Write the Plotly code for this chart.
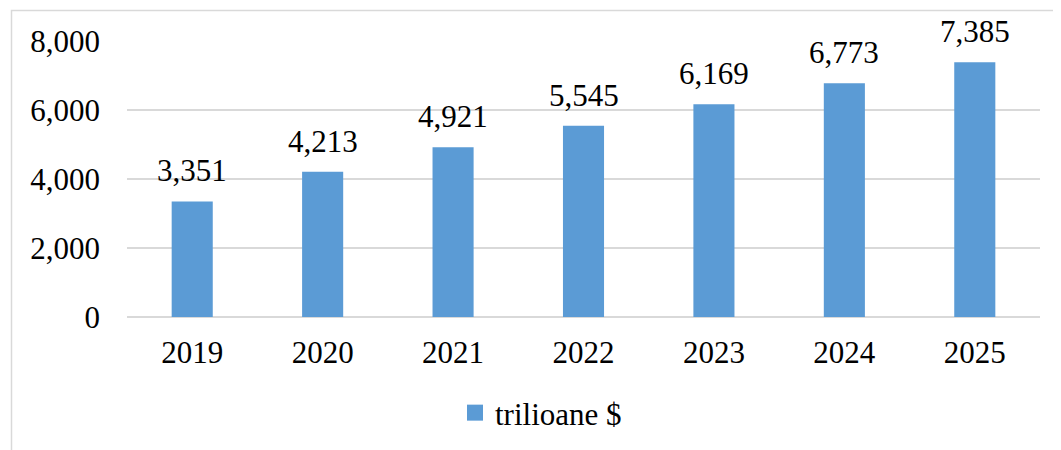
import plotly.graph_objects as go

years = ["2019", "2020", "2021", "2022", "2023", "2024", "2025"]
values = [3351, 4213, 4921, 5545, 6169, 6773, 7385]
series_name = "trilioane $"
y_ticks = [0, 2000, 4000, 6000, 8000]

FONT = "Liberation Serif"
BAR = "#5B9BD5"
GRID = "#D9D9D9"

# page body has an 8px default margin, so the figure is 8px smaller and offset
OFF = 8
W, H = 1061 - OFF, 450 - OFF
L, T = 127 - OFF, 41 - OFF
pw, ph = 913, 276
R, B = W - L - pw, H - T - ph

def px_x(x):  # page pixel -> paper x
    return (x - OFF - L) / pw

def px_y(y):  # page pixel -> paper y
    return (T + ph - (y - OFF)) / ph

fig = go.Figure()
fig.add_trace(go.Bar(x=years, y=values, name=series_name, marker_color=BAR,
                     marker_line_width=0, showlegend=False))
# legend swatch (square marker, as in the reference)
fig.add_trace(go.Scatter(x=[years[0]], y=[None], mode="markers", name=series_name,
                         marker=dict(symbol="square", size=16, color=BAR),
                         showlegend=True, hoverinfo="skip"))

# value labels: category index positions on the category axis
for i, v in enumerate(values):
    fig.add_annotation(x=i, y=v, xref="x", yref="y", text=f"{v:,}", showarrow=False,
                       yanchor="bottom", yshift=11,
                       font=dict(family=FONT, size=31, color="#000000"))

fig.add_shape(type="rect", xref="paper", yref="paper",
              x0=px_x(11.5), x1=1.2, y0=-0.8, y1=px_y(10.5),
              line=dict(color=GRID, width=1.5), fillcolor="rgba(0,0,0,0)", layer="below")

fig.update_layout(
    width=W, height=H,
    margin=dict(l=L, r=R, t=T, b=B, autoexpand=False),
    paper_bgcolor="white", plot_bgcolor="white",
    font=dict(family=FONT, size=31, color="#000000"),
    bargap=0.685,
    showlegend=True,
    legend=dict(orientation="h", x=px_x(541), y=px_y(413),
                xanchor="center", yanchor="middle",
                font=dict(family=FONT, size=31), itemwidth=30,
                bgcolor="rgba(0,0,0,0)"),
    xaxis=dict(type="category", categoryorder="array", categoryarray=years,
               range=[-0.5, len(years) - 0.5], autorange=False, automargin=False,
               showgrid=False, showline=False, ticks="", ticklabelstandoff=14,
               tickfont=dict(family=FONT, size=31)),
    yaxis=dict(range=[0, 8000], tickvals=y_ticks, tickformat=",d", automargin=False,
               showgrid=True, gridcolor=GRID, gridwidth=1.5,
               zeroline=True, zerolinecolor=GRID, zerolinewidth=1.5,
               showline=False, ticks="", ticklabelstandoff=26,
               tickfont=dict(family=FONT, size=31)),
)

fig.write_html("out.html")
